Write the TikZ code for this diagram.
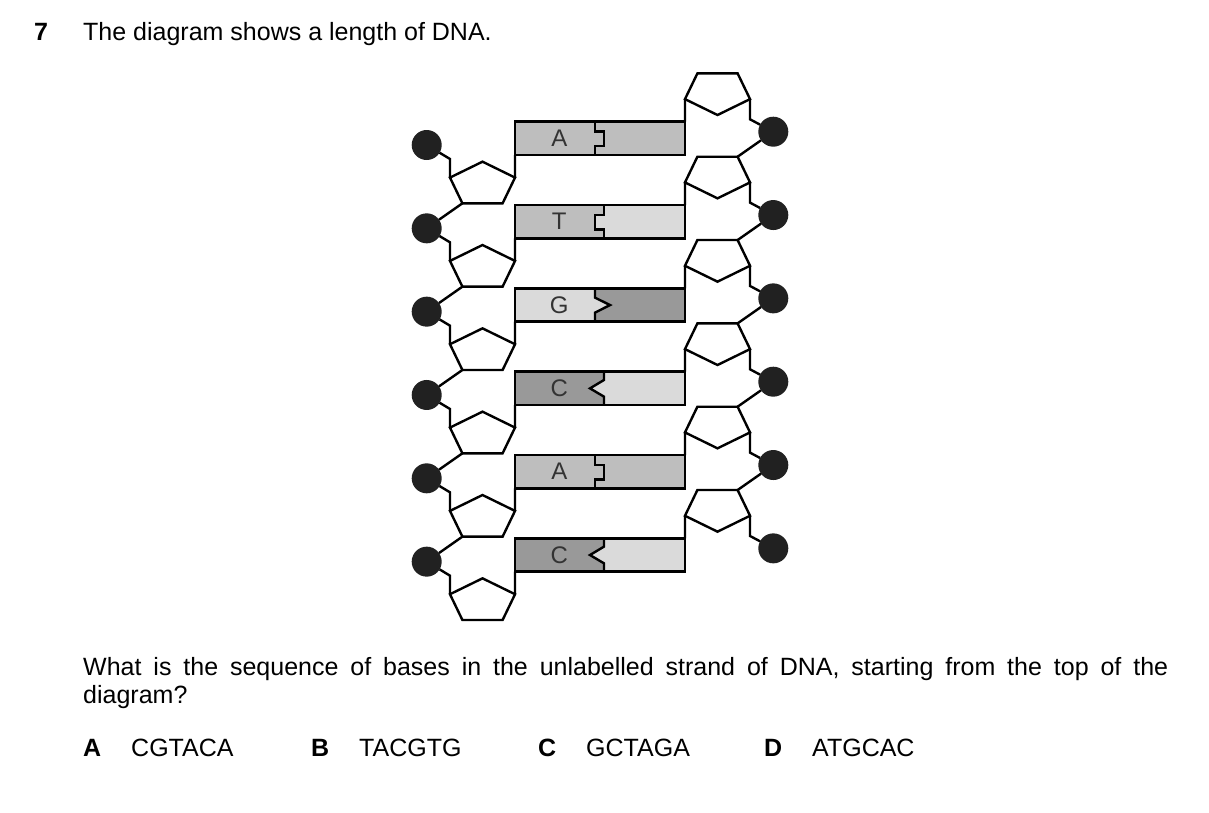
\documentclass[tikz,border=0pt]{standalone}
\usepackage{fontspec}
\setmainfont{Liberation Sans}
\usetikzlibrary{shapes.geometric}
\definecolor{midgrey}{HTML}{BEBEBE}
\definecolor{lightgrey}{HTML}{DADADA}
\definecolor{darkgrey}{HTML}{999999}
% joins between the two halves of a base pair, read from the top down
\newcommand{\cuttab}{-- ++(-5,0) -- ++(0,10) -- ++(9,0) -- ++(0,14.3) -- ++(-9,0) -- ++(0,9)}
\newcommand{\cutslot}{-- ++(4,0) -- ++(0,10) -- ++(-9,0) -- ++(0,14.3) -- ++(9,0) -- ++(0,9)}
\newcommand{\cutpoint}{-- ++(-5,0) -- ++(0,9.3) -- ++(15,7.4) -- ++(-15,7.6) -- ++(0,9)}
\newcommand{\cutvee}{-- ++(4,0) -- ++(0,8.3) -- ++(-14,8.4) -- ++(14,8.3) -- ++(0,8.3)}

\begin{document}
\begin{tikzpicture}[x=0.5pt,y=-0.5pt,line width=1.2pt,
  phosphate/.style={circle,fill=black!87,minimum size=15pt,inner sep=0pt,outer sep=0pt},
  sugar/.style={regular polygon,regular polygon sides=5,draw,minimum size=34.2pt,inner sep=0pt,outer sep=0pt},
  rung/.style={rectangle,minimum width=85pt,minimum height=16.67pt,inner sep=0pt,outer sep=0pt},
  letter/.style={font=\fontsize{12}{14}\selectfont,text=black!80,inner sep=0pt},
  txt/.style={anchor=base west,inner sep=0pt,font=\fontsize{12.5}{15}\selectfont},
  key/.style={txt,font=\fontsize{12.5}{15}\selectfont\bfseries}]
  \useasboundingbox (0,0) rectangle (1209,813);

  \node[key] (num) at (33,41) {7};
  \node[txt] (stem) at (82,41) {The diagram shows a length of DNA.};

  % base pairs
  \foreach \k/\lab/\lc/\rc/\cut in {0/A/midgrey/midgrey/\cuttab, 1/T/midgrey/lightgrey/\cutslot,
      2/G/lightgrey/darkgrey/\cutpoint, 3/C/darkgrey/lightgrey/\cutvee,
      4/A/midgrey/midgrey/\cuttab, 5/C/darkgrey/lightgrey/\cutvee} {
    \node[rung] (bp\k) at (600,{138.35+83.33*\k}) {};
    \fill[\lc] (bp\k.north west) -- (bp\k.north) \cut -- (bp\k.south west) -- cycle;
    \fill[\rc] (bp\k.north east) -- (bp\k.north) \cut -- (bp\k.south east) -- cycle;
    \draw (bp\k.north west) rectangle (bp\k.south east);
    \draw (bp\k.north) \cut;
    \node[letter] at ([xshift=-20.35pt]bp\k.center) {\lab};
  }

  % sugars and phosphates
  \foreach \k in {0,...,5} {
    \node[phosphate] (pl\k) at (426.7,{145+83.33*\k}) {};
    \begin{scope}[shift={(482.5,{184.7+83.33*\k})},yscale=0.673,transform shape]
      \node[sugar] (sl\k) {};
    \end{scope}
    \begin{scope}[shift={(717.5,{92+83.33*\k})},yscale=0.673,transform shape]
      \node[sugar,shape border rotate=180] (sr\k) {};
    \end{scope}
    \node[phosphate] (pr\k) at (773.3,{131.7+83.33*\k}) {};
  }

  \foreach \k in {0,...,5} {
    \draw (pl\k) -- ([yshift=9.3pt]sl\k.corner 2) -- (sl\k.corner 2);
    \draw (sl\k.corner 5) -- (bp\k.south west);
    \draw (sr\k.corner 5) -- (bp\k.north east);
    \draw (sr\k.corner 2) -- ([yshift=-10.1pt]sr\k.corner 2) -- (pr\k);
  }
  \foreach \k [evaluate=\k as \n using int(\k+1)] in {0,...,4} {
    \draw (sl\k.corner 3) -- (pl\n);
    \draw (pr\k) -- (sr\n.corner 3);
  }

  \node[txt] (q1) at (82,675) {\makebox[542.5pt][s]{What is the sequence of bases in the unlabelled strand of DNA, starting from the top of the}};
  \node[txt] (q2) at (82,703) {diagram?};
  \foreach \x/\opt/\seq in {82/A/CGTACA, 310/B/TACGTG, 537/C/GCTAGA, 763/D/ATGCAC} {
    \node[key] (opt\opt) at (\x,756) {\opt};
    \node[txt] (seq\opt) at (\x+48,756) {\seq};
  }
\end{tikzpicture}
\end{document}
